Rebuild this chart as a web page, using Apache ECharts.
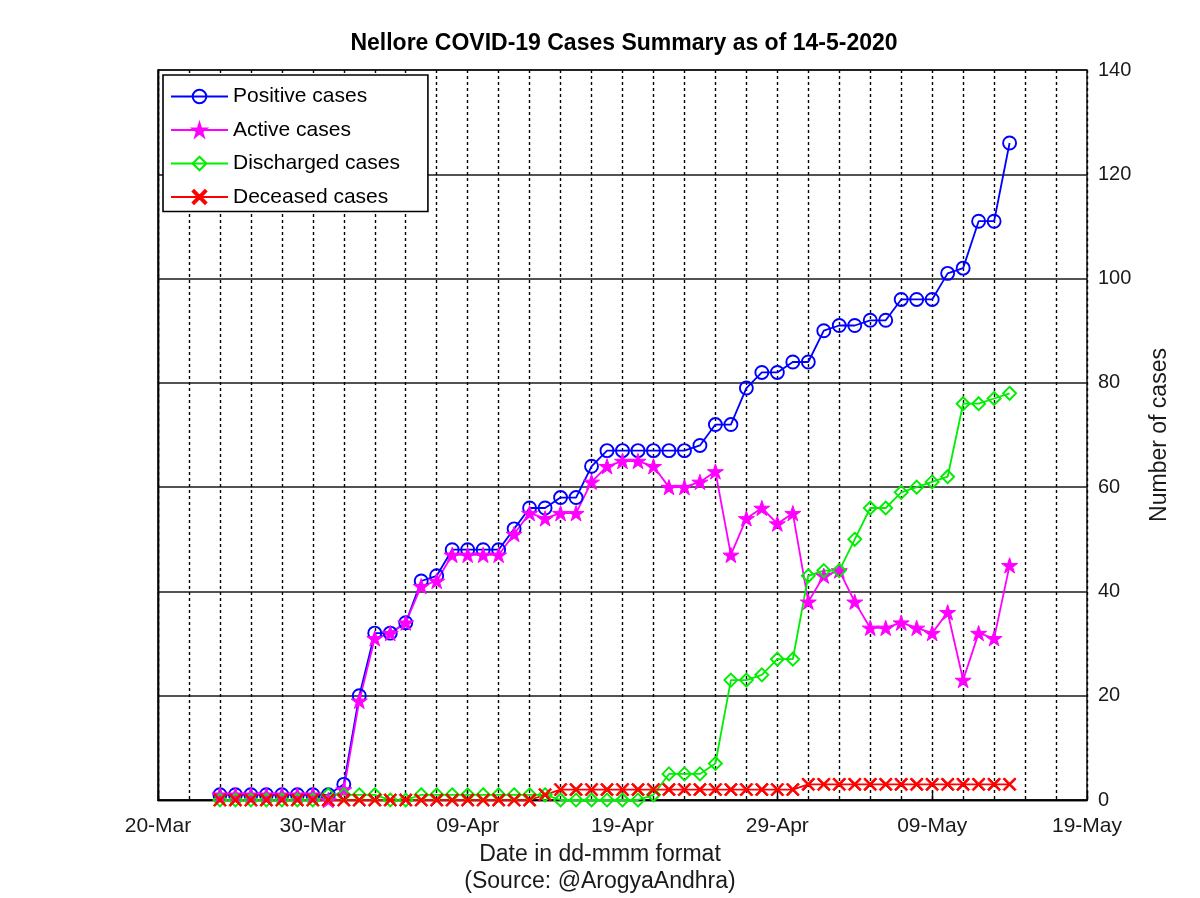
<!DOCTYPE html>
<html>
<head>
<meta charset="utf-8">
<script src="https://cdn.jsdelivr.net/npm/echarts@6/dist/echarts.min.js"></script>
<style>
html,body{margin:0;padding:0;background:#fff;}
#chart{width:1200px;height:898px;}
</style>
</head>
<body>
<div id="chart"></div>
<script>
// ---- data ----
const dates = [
  '2020-03-24','2020-03-25','2020-03-26','2020-03-27','2020-03-28','2020-03-29','2020-03-30','2020-03-31',
  '2020-04-01','2020-04-02','2020-04-03','2020-04-04','2020-04-05','2020-04-06','2020-04-07','2020-04-08',
  '2020-04-09','2020-04-10','2020-04-11','2020-04-12','2020-04-13','2020-04-14','2020-04-15','2020-04-16',
  '2020-04-17','2020-04-18','2020-04-19','2020-04-20','2020-04-21','2020-04-22','2020-04-23','2020-04-24',
  '2020-04-25','2020-04-26','2020-04-27','2020-04-28','2020-04-29','2020-04-30',
  '2020-05-01','2020-05-02','2020-05-03','2020-05-04','2020-05-05','2020-05-06','2020-05-07','2020-05-08',
  '2020-05-09','2020-05-10','2020-05-11','2020-05-12','2020-05-13','2020-05-14'
];
const positive = [1,1,1,1,1,1,1,1,
  3,20,32,32,34,42,43,48,48,48,48,52,56,56,58,58,64,67,67,67,67,67,67,68,72,72,79,82,82,84,
  84,90,91,91,92,92,96,96,96,101,102,111,111,126];
const active = [1,1,1,1,1,1,1,0,
  2,19,31,32,34,41,42,47,47,47,47,51,55,54,55,55,61,64,65,65,64,60,60,61,63,47,54,56,53,55,
  38,43,44,38,33,33,34,33,32,36,23,32,31,45];
const discharged = [0,0,0,0,0,0,0,1,
  1,1,1,0,0,1,1,1,1,1,1,1,1,1,0,0,0,0,0,0,1,5,5,5,7,23,23,24,27,27,
  43,44,44,50,56,56,59,60,61,62,76,76,77,78];
const deceased = [0,0,0,0,0,0,0,0,
  0,0,0,0,0,0,0,0,0,0,0,0,0,1,2,2,2,2,2,2,2,2,2,2,2,2,2,2,2,2,
  3,3,3,3,3,3,3,3,3,3,3,3,3,3];
const seriesNames = ['Positive cases','Active cases','Discharged cases','Deceased cases'];
const xStartDate = '2020-03-20';
const xTickLabels = ['20-Mar','30-Mar','09-Apr','19-Apr','29-Apr','09-May','19-May'];
const yTicks = [0,20,40,60,80,100,120,140];

// ---- helpers ----
const DAY = 86400000;
const base = Date.parse(xStartDate);
const dayOf = d => (Date.parse(d) - base) / DAY;
const pairs = arr => arr.map((v, i) => [dayOf(dates[i]), v]);

const STAR = 'path://M50 0 L61.17 34.63 L97.55 34.55 L68.07 55.87 L79.39 90.45 L50 69 L20.61 90.45 L31.93 55.87 L2.45 34.55 L38.83 34.63 Z';
const XMARK = 'path://M0 1 L1 0 L5 4 L9 0 L10 1 L6 5 L10 9 L9 10 L5 6 L1 10 L0 9 L4 5 Z';

const FONT = 'Liberation Sans, Arial, Helvetica, sans-serif';
const dotted = {color:'#000', type:[3,3], width:1.4};

const chart = echarts.init(document.getElementById('chart'), null, {renderer:'canvas'});

function mkSeries(name, data, symbol, size, color, filled) {
  return {
    name, type:'line', data: pairs(data),
    symbol, symbolSize: size, symbolKeepAspect: true,
    showSymbol: true,
    lineStyle: {color, width: 1.8},
    itemStyle: filled ? {color, borderColor: color, borderWidth: 1}
                      : {color: 'rgba(255,255,255,0)', borderColor: color, borderWidth: 1.9},
    emphasis: {disabled: true},
    animation: false
  };
}

const maxY = yTicks[yTicks.length - 1];
const maxX = (xTickLabels.length - 1) * 10;

chart.setOption({
  animation: false,
  backgroundColor: '#fff',
  textStyle: {fontFamily: FONT},
  title: {
    text: 'Nellore COVID-19 Cases Summary as of 14-5-2020',
    left: 619, top: 27, textAlign: 'center',
    textStyle: {fontFamily: FONT, fontSize: 23, fontWeight: 'bold', color: '#000'}
  },
  grid: {left: 158, right: 113, top: 70, bottom: 98, show: true, borderColor: '#000', borderWidth: 1.4, backgroundColor: 'transparent'},
  legend: {
    orient: 'vertical', left: 163, top: 75,
    padding: [11, 28, 4, 7], itemGap: 12.5,
    itemWidth: 57, itemHeight: 17,
    textStyle: {fontFamily: FONT, fontSize: 21, color: '#000', lineHeight: 21},
    borderColor: '#000', borderWidth: 1.6, backgroundColor: '#fff',
    data: seriesNames
  },
  xAxis: [{
    type: 'value', min: 0, max: maxX, interval: 10, position: 'bottom',
    axisLine: {show: true, lineStyle: {color: '#000', width: 1.4}},
    axisTick: {show: true, inside: true, length: 9, lineStyle: {color: '#000', width: 1.4}},
    axisLabel: {fontFamily: FONT, fontSize: 21, color: '#1a1a1a', margin: 16,
      formatter: v => xTickLabels[Math.round(v / 10)]},
    splitLine: {show: true, lineStyle: dotted},
    minorTick: {show: false, splitNumber: 5},
    minorSplitLine: {show: true, lineStyle: dotted}
  }, {
    type: 'value', min: 0, max: maxX, interval: 10, position: 'top',
    axisLine: {show: true, lineStyle: {color: '#000', width: 1.4}},
    axisTick: {show: false},
    axisLabel: {show: false}, splitLine: {show: false}
  }],
  yAxis: [{
    type: 'value', min: 0, max: maxY, interval: 20, position: 'right',
    axisLine: {show: true, lineStyle: {color: '#000', width: 1.4}},
    axisTick: {show: false},
    axisLabel: {fontFamily: FONT, fontSize: 20, color: '#1a1a1a', margin: 11},
    splitLine: {show: true, lineStyle: {color: '#1a1a1a', width: 1.6}}
  }, {
    type: 'value', min: 0, max: maxY, interval: 20, position: 'left',
    axisLine: {show: true, lineStyle: {color: '#000', width: 1.4}},
    axisTick: {show: false},
    axisLabel: {show: false}, splitLine: {show: false}
  }],
  graphic: [
    {type: 'text', x: 600, y: 855, style: {text: 'Date in dd-mmm format', fontFamily: FONT, fontSize: 23, fill: '#1a1a1a', textAlign: 'center', textVerticalAlign: 'middle'}},
    {type: 'text', x: 600, y: 882, style: {text: '(Source: @ArogyaAndhra)', fontFamily: FONT, fontSize: 23, fill: '#1a1a1a', textAlign: 'center', textVerticalAlign: 'middle'}},
    {type: 'text', x: 1160, y: 435, rotation: Math.PI / 2, style: {text: 'Number of cases', fontFamily: FONT, fontSize: 23, fill: '#1a1a1a', textAlign: 'center', textVerticalAlign: 'middle'}}
  ],
  series: [
    mkSeries(seriesNames[0], positive, 'circle', 13, '#0000ff', false),
    mkSeries(seriesNames[1], active, STAR, 16, '#ff00ff', true),
    mkSeries(seriesNames[2], discharged, 'diamond', 13, '#00ee00', false),
    mkSeries(seriesNames[3], deceased, XMARK, 13, '#ff0000', true)
  ]
});
</script>
</body>
</html>
